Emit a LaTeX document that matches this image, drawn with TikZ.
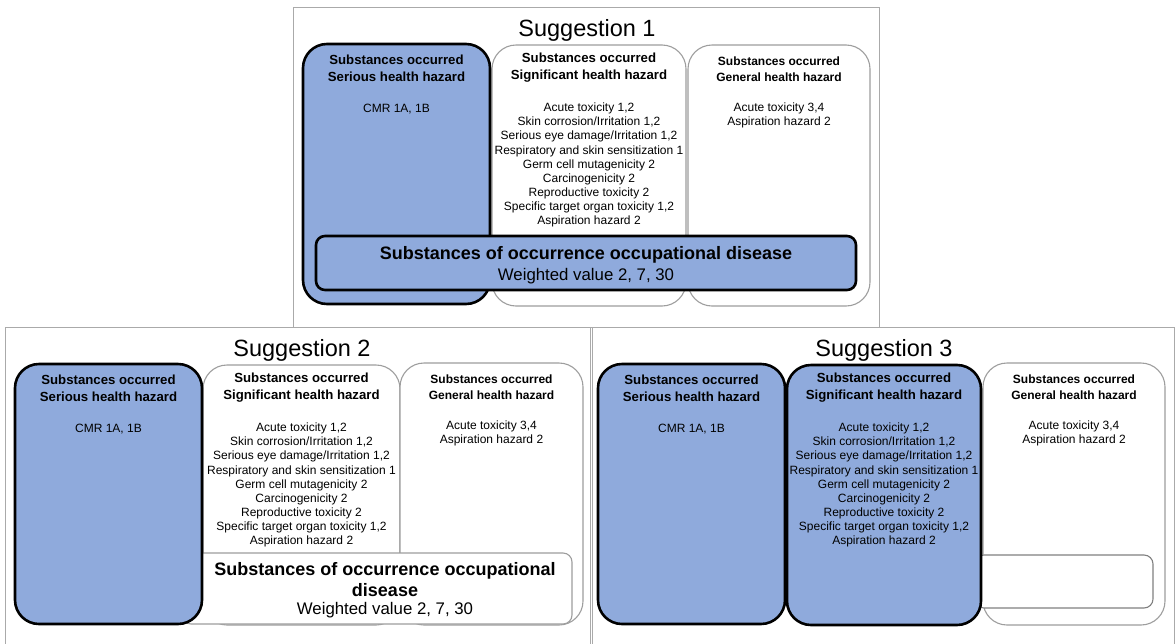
\documentclass[tikz,border=0pt]{standalone}
\usepackage{fontspec}
\setmainfont{Liberation Sans}
\usetikzlibrary{positioning}
\definecolor{hazblue}{RGB}{143,170,220}
\definecolor{hazgray}{RGB}{158,158,158}
\definecolor{framegray}{RGB}{170,170,170}

\begin{document}
\begin{tikzpicture}[x=1pt, y=-1pt,
    panel/.style={draw=framegray, line width=0.9pt, fill=white, minimum height=320pt, inner sep=0pt, outer sep=0pt, anchor=north west},
    bluebox/.style={draw=black, line width=2.6pt, fill=hazblue, rounded corners=24pt, inner sep=0pt, outer sep=0pt, anchor=north west},
    whitebox/.style={draw=hazgray, line width=1.1pt, fill=white, rounded corners=24pt, inner sep=0pt, outer sep=0pt, anchor=north west},
    occbox/.style={rounded corners=9pt},
    titletext/.style={font=\fontsize{23.5}{26}\selectfont, inner sep=0pt},
    headtext/.style={font=\bfseries\fontsize{13.2}{17.5}\selectfont, align=center, inner sep=0pt},
    genhead/.style={font=\bfseries\fontsize{12}{16}\selectfont, align=center, inner sep=0pt},
    itemtext/.style={font=\fontsize{12}{14.1}\selectfont, align=center, inner sep=0pt},
    occhead/.style={font=\bfseries\fontsize{18}{21}\selectfont, align=center, inner sep=0pt},
    occvalue/.style={font=\fontsize{16.8}{20}\selectfont, inner sep=0pt}
]
    \useasboundingbox (0,0) rectangle (1175,643);

    \def\SigList{Acute toxicity 1,2\\Skin corrosion/Irritation 1,2\\Serious eye damage/Irritation 1,2\\Respiratory and skin sensitization 1\\Germ cell mutagenicity 2\\Carcinogenicity 2\\Reproductive toxicity 2\\Specific target organ toxicity 1,2\\Aspiration hazard 2}
    \def\GenList{Acute toxicity 3,4\\Aspiration hazard 2}

    % frames + titles
    \foreach \n/\fx/\fy/\fw/\tx in {1/293/7/586/587, 2/5/327/585/302, 3/592/327/582/884} {
        \node[panel, minimum width=\fw pt] (frame\n) at (\fx,\fy) {};
        \node[titletext] (title\n) at (\tx,\fy+23) {Suggestion \n};
    }

    % Suggestion 1
    \node[whitebox, minimum width=194pt, minimum height=261pt] (sig1) at (492,45) {};
    \node[whitebox, minimum width=182pt, minimum height=261pt] (gen1) at (688,45) {};
    \node[bluebox, minimum width=187pt, minimum height=260pt] (ser1) at (303,44) {};
    \node[bluebox, occbox, minimum width=540pt, minimum height=54pt] (occ1) at (316,236) {};

    % Suggestion 2
    \begin{scope}[shift={(-288,320)}]
        \node[whitebox, minimum width=197pt, minimum height=260pt] (sig2) at (491,45) {};
        \node[whitebox, minimum width=183pt, minimum height=262pt] (gen2) at (688,43) {};
        \node[whitebox, occbox, minimum width=390pt, minimum height=71pt] (occ2) at (470,233) {};
        \node[bluebox, minimum width=187pt, minimum height=260pt] (ser2) at (303,44) {};
    \end{scope}

    % Suggestion 3
    \begin{scope}[shift={(295,320)}]
        \node[whitebox, minimum width=182pt, minimum height=262pt] (gen3) at (688,43) {};
        \node[whitebox, occbox, draw=gray, minimum width=178pt, minimum height=53pt] (occ3) at (680,235) {};
        \node[bluebox, minimum width=194pt, minimum height=260pt] (sig3) at (492,45) {};
        \node[bluebox, minimum width=187pt, minimum height=260pt] (ser3) at (303,44) {};
    \end{scope}

    % box texts
    \foreach \n in {1,2,3} {
        \node[headtext] (serhead\n) at ([yshift=-24.5pt]ser\n.north) {Substances occurred\\Serious health hazard};
        \node[itemtext] (seritem\n) at ([yshift=-65pt]ser\n.north) {CMR 1A, 1B};
        \node[headtext] (sighead\n) at ([yshift=-22.5pt]sig\n.north) {Substances occurred\\Significant health hazard};
        \node[itemtext] (sigitem\n) at ([yshift=-120pt]sig\n.north) {\SigList};
        \node[genhead] (genhead\n) at ([yshift=-24.5pt]gen\n.north) {Substances occurred\\General health hazard};
        \node[itemtext] (genitem\n) at ([yshift=-70.5pt]gen\n.north) {\GenList};
    }

    % occupational disease
    \node[occhead] (occhead1) at ([yshift=-19pt]occ1.north) {Substances of occurrence occupational disease};
    \node[occvalue] (occval1) at ([yshift=-40pt]occ1.north) {Weighted value 2, 7, 30};
    \node[occhead] (occhead2) at ([xshift=8pt, yshift=-27pt]occ2.north) {Substances of occurrence occupational\\disease};
    \node[occvalue] (occval2) at ([xshift=8pt, yshift=-57pt]occ2.north) {Weighted value 2, 7, 30};
\end{tikzpicture}
\end{document}
